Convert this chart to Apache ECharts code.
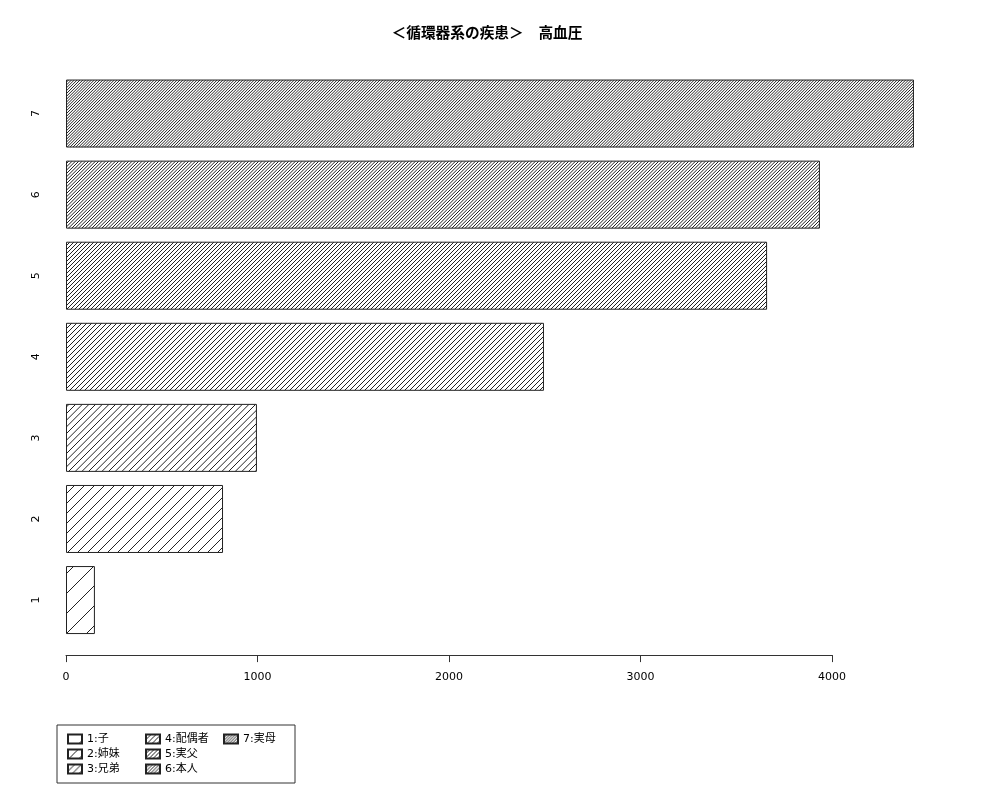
<!DOCTYPE html>
<html>
<head>
<meta charset="UTF-8">
<script src="https://cdn.jsdelivr.net/npm/echarts@6/dist/echarts.min.js"></script>
<style>
html,body{margin:0;padding:0;background:#fff;}
#chart{width:1000px;height:800px;}
</style>
</head>
<body>
<div id="chart"></div>
<script>
var chartTitle = '＜循環器系の疾患＞　高血圧';
var categories = ['1', '2', '3', '4', '5', '6', '7'];
var seriesNames = ['1:子', '2:姉妹', '3:兄弟', '4:配偶者', '5:実父', '6:本人', '7:実母'];
var values = [151, 820, 997, 2496, 3661, 3937, 4428];
var hatchLines = [1, 2, 3, 4, 5, 6, 7]; // hatch lines per 20px tile

// diagonal hatch tile, "/" lines
function hatch(n) {
  var c = document.createElement('canvas');
  c.width = 20; c.height = 20;
  var g = c.getContext('2d');
  g.fillStyle = '#fff';
  g.fillRect(0, 0, 20, 20);
  g.strokeStyle = '#222';
  g.lineWidth = 1;
  var s = 20 / n;
  for (var k = -1; k <= 2 * n + 1; k++) {
    var cc = k * s;
    g.beginPath();
    g.moveTo(-2, cc + 2);
    g.lineTo(cc + 2, -2);
    g.stroke();
  }
  return c;
}

var font = "'DejaVu Sans','Noto Sans CJK JP',sans-serif";

var series = seriesNames.map(function (name, i) {
  var d = categories.map(function (c, j) { return j === i ? values[i] : '-'; });
  return {
    name: name,
    type: 'bar',
    data: d,
    barWidth: 68,
    barGap: '-100%',
    clip: false,
    itemStyle: {
      color: { image: hatch(hatchLines[i]), repeat: 'repeat' },
      borderColor: '#222',
      borderWidth: 1
    },
    emphasis: { disabled: true }
  };
});

var legendData = seriesNames.map(function (name, i) {
  return { name: name, textStyle: { width: i === 6 ? 42 : 55 } };
});

var chart = echarts.init(document.getElementById('chart'));
chart.setOption({
  animation: false,
  textStyle: { fontFamily: font },
  title: {
    text: chartTitle,
    left: 482,
    textAlign: 'center',
    top: 20,
    textStyle: { fontSize: 14.7, fontWeight: 'bold', color: '#000', fontFamily: "'Noto Sans CJK JP',sans-serif" }
  },
  grid: { left: 66, right: 168, top: 73, bottom: 159.4 },
  xAxis: {
    type: 'value',
    min: 0,
    max: 4000,
    interval: 1000,
    offset: 14.5,
    axisLine: { show: true, lineStyle: { color: '#333', width: 1 } },
    axisTick: { show: true, length: 7, lineStyle: { color: '#333' } },
    axisLabel: { fontSize: 11, color: '#000', margin: 17, fontFamily: font, formatter: function (v) { return String(v); } },
    splitLine: { show: false }
  },
  yAxis: {
    type: 'category',
    data: categories,
    axisLine: { show: false },
    axisTick: { show: false },
    axisLabel: { rotate: 90, fontSize: 11, color: '#000', margin: 24, fontFamily: font }
  },
  legend: {
    left: 57,
    top: 725,
    orient: 'vertical',
    height: 43,
    itemGap: 3,
    itemWidth: 14,
    itemHeight: 9,
    icon: 'rect',
    padding: [8, 10, 8, 10],
    borderColor: '#333',
    borderWidth: 1,
    selectedMode: false,
    textStyle: { fontSize: 11, color: '#000', lineHeight: 12, fontFamily: font },
    data: legendData
  },
  series: series
});
</script>
</body>
</html>
